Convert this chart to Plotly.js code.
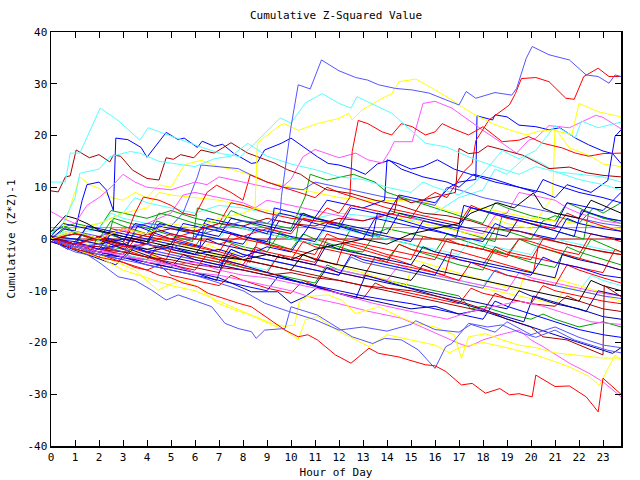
<!DOCTYPE html>
<html>
<head>
<meta charset="utf-8">
<script src="https://cdn.plot.ly/plotly-3.0.1.min.js"></script>
<style>html,body{margin:0;padding:0;background:#fff;}#chart{width:640px;height:480px;}</style>
</head>
<body>
<div id="chart"></div>
<script>
// Tick labels
const hourTicks = [0,1,2,3,4,5,6,7,8,9,10,11,12,13,14,15,16,17,18,19,20,21,22,23];
const valueTicks = [-40,-30,-20,-10,0,10,20,30,40];

// Series: [hour, cumulative value] pairs
const hz0 = [[0,0],[23.75,0]];
const hz2 = [[0,2.2],[23.75,2.2]];
const g1 = [[0,1],[0.5,2.5],[1,1.5],[2,0],[2.5,3.5],[3,2.5],[4,1],[4.5,5],[5,4.5],[6,3],[7,2],[7.5,5.5],[8,4.5],[9,3],[10,2],[10.6,8.3],[10.8,12.5],[11.5,11.4],[12.6,12.5],[13.5,11],[14,9],[15,7.5],[16,6],[17,4.5],[18,3],[18.5,7],[19,6],[20,4.5],[21,3.5],[21.5,7],[22,6],[23,4],[23.75,3.5]];
const g2 = [[0,0],[1,-1.5],[1.5,2.5],[2,1.5],[3,0],[4,-1],[4.4,3.5],[5,2.5],[6,1],[7,0],[8,-1.5],[9,-2.5],[9.5,1],[10,0],[11,-1],[12,-2],[12.5,2],[13,1],[14,0],[15,-1],[16,-2.5],[16.5,1],[17,0],[18,-1.5],[19,-3],[19.5,0],[20,-1],[21,-2.5],[22,-4],[22.5,0],[23,-1],[23.75,-2.5]];
const g3 = [[0,0.5],[1,0],[2,-1],[3,-2],[3.5,1],[4,0.5],[5,-0.5],[6,-1.5],[6.5,2],[7,1.5],[8,0.5],[9,-0.5],[10,-2],[10.5,1],[11,0],[12,-1.5],[13,-3],[14,-4],[14.5,-1],[15,-2],[16,-3.5],[17,-5],[18,-6],[18.5,-2],[19,-3],[20,-4.5],[21,-5.5],[21.5,-1.5],[22,-2.5],[23,-4],[23.75,-5]];
const g4 = [[0,1.5],[1,3],[2,2],[2.5,5.5],[3,5],[4,4],[5,5.5],[6,4],[7,3],[8,2],[9,1],[10,0],[11,-1],[12,-2],[13,-2.5],[13.5,1],[14,2],[15,1],[16,0],[17,-1],[18,-2],[18.5,2],[19,1.5],[20,0],[20.5,3.5],[21,4.5],[22,3],[22.6,6],[23,5],[23.75,7]];
const g5 = [[0,0],[1,-1],[2,-2],[3,-3],[4,-4],[4.5,-1.5],[5,-2.5],[6,-3.5],[7,-4.5],[8,-5.5],[9,-6.5],[10,-7.5],[11,-8.5],[11.5,-5],[12,-6],[13,-7],[14,-8],[15,-9],[16,-10],[17,-11],[17.5,-13.5],[18,-13],[19,-14.5],[20,-15.5],[20.5,-14.5],[21,-15.5],[22,-17],[22.5,-16.5],[23,-16],[23.75,-17]];
const x4 = [[0,0],[0.6,2],[1.4,0.5],[2.3,-1],[2.6,4],[3.7,2.5],[4.8,1],[5.9,-0.5],[6.1,6],[7.2,4.5],[8.3,3],[9.4,1.5],[10.2,0],[10.4,5],[11.5,3.5],[12.6,2],[13.7,0.5],[14.1,5.5],[15.2,4],[16.3,2.5],[17.4,1],[18.5,-0.5],[18.8,4.5],[19.9,3],[21.1,1.5],[22.2,0],[22.4,5],[23.75,3]];
const r3 = [[0,0],[0.5,-1.5],[1,-1],[2,-2.5],[3,-1],[3.5,5],[3.85,8.1],[4.5,7.5],[5,6.5],[5.5,5],[6,4.5],[6.5,9],[6.9,10.4],[7.5,9],[8,7.5],[8.3,12.4],[9,11],[10,9.5],[11,8],[11.5,10],[12,9],[13,7.5],[14,6],[15,5],[16,4],[17,3],[17.5,6.5],[18,5.5],[19,4],[20,3],[21,2],[21.5,5],[22,4],[23,2.5],[23.75,1.5]];
const r4 = [[0,0],[1,-1.5],[2,-2.5],[3,-3.5],[4,-4],[4.5,-1],[5,-2],[6,-3],[7,-4],[8,-5],[8.5,-1.5],[9,-2.5],[10,-3.5],[11,-4.5],[11.5,0],[12,-0.5],[13,-1.5],[14,-3],[15,-4],[15.5,0.5],[16,0],[17,-1],[18,-2],[19,-3.5],[19.5,0],[20,-0.5],[21,-2],[22,-3],[22.5,1],[23,0.5],[23.75,-0.5]];
const r5 = [[0,-0.5],[1,-2],[2,-3.5],[2.5,-1],[3,-2],[4,-3.5],[5,-5],[6,-6],[6.5,-3],[7,-4],[8,-5.5],[9,-6.5],[9.5,-3],[10,-4],[11,-5],[12,-6.5],[13,-7.5],[13.5,-3.5],[14,-4.5],[15,-5.5],[16,-6.5],[17,-8],[17.5,-4.5],[18,-5.5],[19,-7],[20,-8],[21,-9],[21.5,-5],[22,-6],[23,-7.5],[23.75,-8.5]];
const r6 = [[0,0.5],[1,-1],[2,-2],[3,-3],[3.5,0],[4,-1],[5,-2.5],[6,-3.5],[7,-4.5],[7.5,-1],[8,-2],[9,-3],[10,-4],[10.5,-0.5],[11,-1.5],[12,-2.5],[13,-3.5],[14,-4.5],[14.5,-1],[15,-2],[16,-3],[17,-4],[18,-5],[18.5,-1.5],[19,-2.5],[20,-3.5],[21,-4.5],[22,-5.5],[23,-6.5],[23.5,-2],[23.75,-2.5]];
const r8 = [[0,0],[1,-1.5],[2,-3],[3,-4.5],[4,-6],[4.5,-5],[5,-7],[6,-8],[7,-9],[7.5,-7],[8,-8],[9,-9.5],[10,-10.5],[10.5,-8],[11,-9],[12,-10.5],[13,-11.5],[13.5,-8.5],[14,-9.5],[15,-10.5],[16,-11.5],[17,-12.5],[17.5,-9.5],[18,-10.5],[19,-11.5],[20,-12.5],[20.5,-9],[21,-10],[22,-11],[23,-12],[23.75,-12.5]];
const r9 = [[0,0],[1,-1],[2,-1.5],[2.5,2],[3,1.5],[4,0.5],[5,-0.5],[6,-1.5],[7,-2.5],[7.5,1],[8,0],[9,-1],[10,-2],[11,-3],[11.5,1],[12,0],[13,-1],[14,-2],[15,-3],[16,-4],[16.5,0],[17,-1],[18,-2],[19,-3],[20,-4],[20.5,0],[21,-0.5],[22,-1.5],[23,-2.5],[23.75,-3]];
const x2 = [[0,0.5],[0.8,-1.5],[1.7,-3],[1.9,0.5],[2.8,-1],[3.9,-2.5],[4.8,-4],[5.2,0],[6.3,-1.5],[7.4,-3],[8.3,-4.5],[8.6,-0.5],[9.7,-2],[10.8,-3.5],[11.9,-5],[12.2,-1],[13.3,-2.5],[14.4,-4],[15.3,-5.5],[16.4,-7],[16.7,-2],[17.8,-3.5],[18.9,-5],[20.1,-6.5],[20.3,-1.5],[21.4,-3],[22.6,-4.5],[23.75,-6]];
const db1 = [[0,0],[1,-1],[2,-2],[2.5,1],[3,0],[4,-1],[5,-2],[6,-3],[6.5,0],[7,-1],[8,-2],[9,-3],[10,-4],[11,-5],[11.5,-1],[12,-2],[13,-3],[14,-4],[15,-5],[15.5,-1.5],[16,-2.5],[17,-3.5],[18,-4.5],[19,-5.5],[20,-6.5],[21,-7.5],[21.3,-3],[22,-4],[23,-5],[23.75,-6]];
const db2 = [[0,0.5],[0.5,3],[1,2.5],[2,1.5],[3,0.5],[4,-0.5],[4.5,3],[5,2.5],[6,1.5],[7,0.5],[7.5,4],[8,3.5],[9,2.5],[10,1.5],[10.5,5],[11,4],[12,3],[13,2],[14,1],[14.5,5],[15,4.5],[16,3.5],[17,2.5],[18,1.5],[19,0.5],[19.5,4],[20,3.5],[21,2.5],[22,1.5],[23,0.5],[23.75,0]];
const db3 = [[0,0],[1,-1.5],[2,-2.5],[3,-3.5],[4,-4.5],[5,-5.5],[5.5,-3],[6,-4],[7,-5],[8,-6],[9,-7],[10,-8],[11,-9],[11.5,-5.5],[12,-6.5],[13,-7.5],[14,-8.5],[15,-9.5],[16,-10.5],[17,-11.5],[18,-12.5],[19,-13.5],[19.5,-10],[20,-11],[21,-12.5],[22,-13.5],[23,-15],[23.75,-15.5]];
const x3 = [[0,0],[0.9,-2],[1.8,-3.5],[2.7,-5],[3.3,-2],[4.2,-3.5],[5.1,-5],[6,-6.5],[6.9,-8],[7.2,-4],[8.3,-5.5],[9.4,-7],[10.5,-8.5],[11.6,-10],[12.7,-11.5],[13.1,-7],[14.2,-8.5],[15.3,-10],[16.4,-11.5],[17.5,-13],[18.6,-14.5],[19.7,-16],[20.1,-11],[21.2,-12.5],[22.3,-14],[22.8,-10],[23.75,-11]];
const bl5 = [[0,0],[1,-1],[1.5,2.5],[2,2],[3,1],[4,0],[5,-1],[5.5,3],[6,2.5],[7,1.5],[8,0.5],[9,-0.5],[9.5,3.5],[10,3],[11,2],[12,1],[13,0],[13.5,4],[14,3.5],[15,2.5],[16,1.5],[17,0.5],[18,-0.5],[18.5,3],[19,2],[20,1],[21,0],[21.5,4],[22,3],[23,2],[23.75,1.5]];
const bl6 = [[0,-0.5],[1,-2],[2,-3],[3,-4],[3.5,-1.5],[4,-2.5],[5,-3.5],[6,-4.5],[7,-5.5],[7.5,-2],[8,-3],[9,-4],[10,-5],[11,-6],[12,-7],[12.5,-3],[13,-4],[14,-5],[15,-6],[16,-7],[16.5,-3],[17,-4],[18,-5],[19,-6],[20,-7],[20.5,-3.5],[21,-4.5],[22,-5.5],[23,-7],[23.75,-7.5]];
const bl7 = [[0,0],[1,-1.5],[2,-2.5],[3,-3.5],[4,-5],[5,-6],[6,-7],[7,-8],[8,-9],[9,-10],[9.5,-7],[10,-8],[11,-9],[12,-10],[13,-11],[14,-11.8],[15,-12.5],[16,-13.5],[17,-14.5],[18,-15.5],[18.5,-12],[19,-13],[20,-14.5],[21,-16],[22,-17.5],[23,-18.5],[23.75,-19]];
const bl8 = [[0,0.5],[1,0],[2,-1],[3,0],[4,-1],[4.5,2.5],[5,2],[6,1],[7,0],[8,-1],[8.5,2],[9,1.5],[10,0.5],[11,-0.5],[11.5,3],[12,2.5],[13,1.5],[14,0.5],[15,-0.5],[15.5,3.5],[16,3],[17,2],[17.5,6],[18,5.5],[19,4.5],[20,3.5],[21,2.5],[21.5,7],[22,6.5],[23,5.5],[23.75,9]];
const x1 = [[0,0],[0.7,-2],[1.3,1],[2.2,-0.5],[3.1,-2],[3.6,2.5],[4.4,1],[5.3,-0.5],[6.2,-1.5],[6.4,3],[7.3,1.5],[8.4,0],[9.1,-1],[9.3,6],[10.2,5],[11.4,3.5],[12.3,2],[13.4,0.5],[13.6,5],[14.7,3.5],[15.8,2],[16.9,0.5],[17.2,6.5],[18.3,5],[19.6,3.5],[20.7,2],[21.8,0.5],[22.1,5.5],[23.2,4],[23.75,3.5]];
const lb2 = [[0,-0.5],[1,-2],[2,-3],[2.5,0],[3,-1],[4,-2],[5,-3],[6,-4],[7,-5],[7.5,-2],[8,-3],[9,-4],[10,-5],[11,-6],[12,-7],[12.5,-3.5],[13,-4.5],[14,-5.5],[15,-6.5],[16,-7.5],[17,-8.5],[18,-9.5],[18.5,-6],[19,-7],[20,-8],[21,-9],[22,-10],[23,-11],[23.75,-11.5]];
const lb3 = [[0,0],[1,1.5],[2,0.5],[3,2],[4,3],[5,2.5],[5.5,5],[6.1,12],[6.25,14.3],[7,14],[7.8,13.6],[8.5,12],[9,11],[9.7,10],[10.5,9.5],[11,11],[12,10],[13,9],[14,8],[15,7.5],[16,6.5],[16.5,10],[17,9.5],[18,8],[19,7],[20,6],[21,5],[22,4],[23,3],[23.75,2.5]];
const cy3 = [[0,0.5],[1,1],[2,2],[2.5,5],[3,4],[4,3],[5,2],[6,1],[7,0],[7.5,3],[8,2],[9,1],[10,0],[11,-1],[11.5,2.5],[12,2],[13,1],[14,0],[15,-1],[16,-2],[17,-3],[17.5,0],[18,-1],[19,-2],[20,-3],[20.5,0.5],[21,0],[22,-1],[23,-2],[23.75,-2.5]];
const cy4 = [[0,0],[1,-1],[2,-2],[3,-3],[4,-4],[5,-5],[5.5,-2],[6,-3],[7,-4],[8,-5],[9,-6],[9.5,-3],[10,-4],[11,-5],[12,-6],[13,-7],[13.5,-4],[14,-5],[15,-6],[16,-7],[17,-8],[18,-9],[18.5,-6],[19,-7],[20,-8],[21,-9],[22,-10],[22.5,-7],[23,-8],[23.75,-9]];
const cy5 = [[0,0.5],[1,2],[2,3],[3,5],[3.5,8],[4,7],[5,6],[6,5],[7,6.5],[8,6],[9,5],[10,4.5],[11,4],[12,5],[13,4.5],[14,4],[15,3.5],[16,5],[17,8],[18,9.5],[18.5,13.5],[19,12.5],[19.8,16],[20.5,14.5],[21,13],[22,12.5],[23,12],[23.75,11]];
const mg2 = [[0,0],[1,1],[2,0],[3,1.5],[4,3],[5,5],[5.5,8.5],[6,9],[7,8],[8,7],[8.5,6],[9,7.5],[10,6.5],[11,5.5],[12,4.5],[13,3.5],[14,5],[15,4],[16,3],[17,2],[18,1],[18.5,4.5],[19,5],[19.5,9],[20,8.5],[21,7.5],[21.5,6],[22,5],[23,3.5],[23.75,3]];
const mg3 = [[0,0],[1,-1],[2,-2],[3,-3],[3.5,-1],[4,-2],[5,-3],[6,-4],[7,-5],[8,-6],[8.5,-2],[9,-3],[10,-4],[11,-5],[12,-6],[13,-7],[14,-8],[14.5,-5],[15,-6],[16,-7],[17,-8],[18,-9],[19,-10],[19.5,-6.5],[20,-7.5],[21,-8.5],[22,-9.5],[23,-10.5],[23.75,-11]];
const ye3 = [[0,0],[1,-1],[2,-2],[3,-1.5],[4,-2.5],[5,-3.5],[6,-4.5],[6.5,-1],[7,-2],[8,-3],[9,-4],[10,-5],[11,-6],[12,-7],[12.5,-3.5],[13,-4.5],[14,-5.5],[15,-6.5],[16,-7.5],[17,-8.5],[18,-9.5],[19,-10.5],[20,-11.5],[21,-12.5],[21.5,-9],[22,-10],[23,-11],[23.75,-12]];
const ye4 = [[0,0],[1,2],[2,3],[3,5],[4,6],[4.5,9],[5,8.5],[6,8],[7,7.5],[8,6.5],[9,5.5],[10,4.5],[11,3.5],[12,2.5],[13,1.5],[14,0.5],[14.5,4],[15,3.5],[16,2.5],[17,1.5],[18,0.5],[18.5,4],[19,3],[20,2],[20.9,8.2],[21,21.4],[21.6,17.6],[22.5,16],[23,14.5],[23.75,14]];
const x5 = [[0,0],[1,-1.5],[2,-0.5],[3.2,-2],[4.3,-3.5],[4.6,0],[5.7,-1.5],[6.8,-3],[7.9,-4.5],[8.2,0],[9.3,-1.5],[10.4,-3],[11.5,-4.5],[12.6,-6],[13.7,-7.5],[14.8,-9],[15.1,-4],[16.2,-5.5],[17.3,-7],[18.4,-8.5],[19.5,-10],[19.8,-6],[20.9,-7.5],[22,-9],[23.1,-10.5],[23.75,-11]];
const bk1 = [[0,1.4],[0.3,3],[0.6,4.5],[1,4],[1.5,3],[2,1.7],[3,0.5],[4,-0.5],[5,-1.5],[6,-2.5],[7,-3.5],[8,-4],[9,-5],[10,-6],[10.5,-3],[11,-4],[12,-5],[13,-6],[14,-7],[15,-8],[15.5,-5],[16,-6],[17,-7],[18,-8],[19,-9],[20,-10],[21,-11],[22,-12],[22.5,-8],[23,-9],[23.75,-10]];
const bk2 = [[0,0],[1,1],[2,0],[3,-1],[4,-2],[5,-1],[6,-2],[7,-3],[8,-4],[9,-3],[10,-4],[11,-2],[12,-1],[13,0],[14,-1],[15,1],[16,2],[17,3],[17.5,5],[18.6,7],[19.3,6],[20.1,8.9],[20.5,6],[21,5],[22,4],[22.5,7.5],[23,6.5],[23.75,5]];
const dr3 = [[0,0],[1,-1],[2,-1.5],[3,-2.5],[4,-3.5],[5,-4.5],[6,-5.5],[7,-6.5],[7.5,-3],[8,-4],[9,-5],[10,-6],[11,-7],[12,-8],[13,-9],[14,-10],[15,-11],[16,-12],[17,-13],[18,-14],[18.5,-10.5],[19,-11.5],[20,-12.5],[21,-13],[21.5,-11],[22,-12],[23,-13.5],[23.75,-14]];
const drb1 = [[0,0],[1,-1],[2,-2],[3,-2.5],[4,-3.5],[5,-4],[6,-5],[7,-5.5],[8,-6],[9,-7],[10,-6.5],[11,-7.5],[12,-8],[13,-9],[14,-9.5],[15,-10],[16,-11],[17,-12],[18,-13.5],[19,-15.5],[20,-17],[20.5,-18.9],[21.5,-19.5],[22.5,-21.5],[23,-22.4],[23.05,-9],[23.75,-11.1]];
const dbb1 = [[0,0],[1,-1.5],[2,-3],[3,-3.5],[4,-4.5],[5,-5.5],[6,-6.5],[7,-7.5],[8.35,-10.2],[9.45,-10.2],[10,-12.4],[10.6,-11.1],[11.1,-9.4],[12,-10.5],[13,-11.5],[14,-12.5],[15,-13.5],[16,-13],[17,-14.5],[17.85,-13.7],[19,-15.5],[20,-17],[21,-18.5],[22,-20],[23.4,-22.1],[23.75,-21]];
const mb2 = [[0,0],[1,-1],[2,-2],[3,-3.5],[4,-4],[5,-5],[6,-4.5],[7,-6],[8,-7],[9,-7.5],[10,-8.5],[11,-9.5],[12,-10.5],[13.4,-12.4],[14.5,-13.5],[15.5,-14.5],[16.5,-15.5],[17.5,-14],[18.5,-13],[19.5,-12],[20.5,-13],[21.5,-14.5],[22.5,-16],[23.75,-16.5]];
const mb1 = [[0,0],[1,-1.5],[2,-2.5],[3,-3],[4,-4.5],[5,-5],[6,-6.5],[7,-7],[8,-8],[9,-9],[10,-10],[11,-11.5],[12,-12.5],[13.25,-14],[14.6,-15.3],[15.45,-17],[16.2,-18.5],[17,-20.2],[17.4,-20.8],[18,-19.5],[18.7,-18.5],[19.5,-17.6],[20,-19.5],[20.5,-20.8],[21.6,-24],[22.4,-25.9],[23,-27.6],[23.75,-30.5]];
const yb1 = [[0,0],[1,-1.5],[2,-3],[3,-5],[3.5,-6],[4.45,-9.9],[5.4,-7.9],[6.1,-9.2],[6.95,-12.4],[7.65,-13.7],[8.35,-14.7],[9.2,-16.3],[9.75,-16.9],[10.15,-16.6],[10.35,-12.1],[10.7,-11.1],[11.55,-10.8],[12.1,-11.8],[12.7,-14.4],[13.65,-13.1],[14.5,-15],[15.2,-16.3],[16,-17],[16.8,-18.5],[17.1,-23.1],[17.4,-18.9],[18.1,-18.3],[18.8,-19.5],[19.5,-20.5],[20.2,-21],[21,-22],[22,-22.5],[23,-23],[23.75,-23]];
const yb2 = [[0,0],[1,-2],[2,-3.5],[3,-6],[4,-7.5],[5,-9],[6,-10],[7,-12],[8.05,-14.1],[9.05,-16.3],[9.7,-17.5],[10.3,-19.4],[10.6,-15.6],[11.1,-15],[11.85,-17.5],[12.5,-19],[13.25,-20.8],[14,-18.5],[15,-19.5],[16,-20.5],[16.6,-22],[17,-21],[18,-20],[18.8,-20.8],[20.2,-22.4],[21.6,-24.7],[22.4,-26.5],[22.85,-28.3],[23.5,-22.4],[23.75,-23.4]];
const lbb2 = [[0,0],[1,-1.5],[2,-3],[3,-4],[4,-5],[5,-6],[6,-7],[7,-8.5],[8,-10],[8.9,-12.4],[9.9,-14],[11,-15.6],[12,-17.6],[13,-17],[14,-17.8],[15,-16.5],[15.2,-15.8],[16,-17.5],[17,-18],[17.5,-16.5],[18.5,-18],[19,-16],[20,-18.5],[21,-17],[22,-19],[23,-20.5],[23.75,-21]];
const lbb1 = [[0,0],[0.5,-1.5],[1,-2.5],[1.5,-3],[2,-4.5],[2.8,-7.3],[3.5,-8],[4.2,-9.9],[4.8,-11.8],[5.3,-10.8],[6.1,-12.1],[6.7,-13.1],[7.25,-16.3],[7.8,-17.3],[8.35,-17.9],[8.55,-19.2],[8.9,-17.6],[9.75,-17.3],[10,-13.1],[11.1,-14.7],[12.1,-17.6],[12.55,-18.9],[13.4,-20.2],[13.9,-19.2],[14.6,-19.5],[15.3,-21.4],[16,-25],[16.45,-20.8],[16.7,-20.2],[17.4,-16.3],[18.2,-17],[18.8,-16.6],[19.5,-18],[20.2,-19],[21,-17.6],[21.8,-19.5],[22.5,-20.5],[23.2,-21.5],[23.75,-22]];
const rb1 = [[0,0],[0.5,-1],[1,-2],[1.5,-2.5],[2,-3.5],[2.5,-4],[3,-4.5],[3.5,-5.5],[4,-6],[4.5,-7],[5,-7.5],[5.5,-8.5],[6.1,-9.2],[6.55,-10.5],[7.2,-11.5],[7.8,-12.4],[8.35,-13.1],[9.05,-15.3],[9.75,-17.6],[10.3,-18.9],[10.7,-18.5],[11.1,-19.5],[11.85,-22.4],[12.5,-24],[13.25,-21.1],[13.65,-22.1],[14.5,-22.8],[15,-23.5],[15.6,-24.3],[16,-24.5],[16.45,-25.6],[17.1,-28.2],[17.55,-27.9],[18.1,-29.8],[18.7,-28.9],[19.1,-30.1],[19.5,-29.9],[20.05,-30.5],[20.2,-26.3],[21,-28.5],[21.6,-28.4],[22.3,-30.5],[22.8,-33.4],[23,-26.9],[23.75,-30]];
const y2 = [[0,0],[0.5,2],[1.2,12],[1.6,10.5],[2,9.8],[2.5,8],[3,7.5],[3.5,9],[4,8],[4.5,10.5],[5,10],[5.55,14.3],[6.25,15.2],[7,14],[7.5,13.5],[8.6,12],[9,11],[10,10],[11,9],[12,8],[13,7.5],[14,7.4],[15,7.4],[15.7,7],[16.5,5.5],[17,5],[18,6],[19,5],[20,4],[21,3.5],[22,3],[23,2.5],[23.75,2]];
const b4 = [[0,0],[1,-0.5],[2,-2],[3,-1],[4,-2.5],[5,-1.5],[6,-3],[7,-2],[8,-3.5],[9,-1.5],[10,-2.5],[11,4],[11.5,7.5],[12,7],[13,6],[13.9,7.5],[14,15.3],[14.5,14.5],[15,13.5],[15.5,14],[16.1,15.3],[16.8,13.5],[17.5,12.5],[18.5,11],[19.5,10],[20.2,9],[20.5,11.5],[21,10.5],[22,9],[23,8],[23.75,7]];
const b2 = [[0,0],[1,-1],[2,0.5],[3,-0.5],[3.5,3],[4,2.5],[5,1],[6,0],[6.5,4],[7,3.5],[8,2.5],[9,1],[9.5,5],[10,4.5],[11,3],[12,2],[12.5,6],[13,5.5],[14,4.5],[14.5,8.5],[15,8],[16,7],[16.6,10],[17,11],[17.7,11.5],[17.75,23.8],[18.4,23],[18.5,24],[19,23.6],[19.5,22],[20.2,21.7],[20.75,21.1],[21.2,21.5],[21.85,19.5],[22.4,18.2],[23,17],[23.4,16.5],[23.75,14.6]];
const b1 = [[0,0],[0.5,2],[1,1.5],[1.3,7.5],[1.5,10.5],[2,11],[2.3,9.5],[2.6,5.5],[2.7,19.5],[3.2,19.2],[3.75,17.7],[4,15.8],[4.8,20.6],[5.3,19.2],[5.55,19.5],[6.1,17.7],[6.3,18.9],[6.8,17.9],[7.15,18.3],[7.6,16.6],[8.35,14.6],[8.6,14.8],[8.9,17.2],[9.6,18.5],[10,19.5],[10.7,17.2],[11.1,15.9],[11.55,14.6],[12,14.3],[12.6,13.5],[13.1,12.5],[13.6,14.5],[14.1,15.2],[14.6,13.5],[15.5,12],[16.5,11],[17,10],[17.6,12.5],[18.5,11.5],[19.5,10],[20.5,9],[21,8],[21.5,10.5],[22.5,9],[23.2,11.3],[23.5,19.8],[23.75,21.1]];
const mg1 = [[0,5.3],[0.5,4],[1,3],[1.5,6.5],[2,8],[2.5,10],[3,12.5],[3.5,11],[4,10],[5,9.5],[6,11],[6.5,10.5],[7,12],[8,11],[9,10],[9.5,9.5],[10,11.5],[10.5,15.9],[11,17.3],[12,15.7],[12.7,16.6],[13.2,15.3],[13.8,14.7],[14.1,16.9],[14.3,18.8],[15.05,18.8],[15.5,26.2],[16,26.6],[16.7,25.3],[17.3,23.3],[18,21],[18.8,18.5],[19.4,16.6],[19.9,19.1],[20.2,19.5],[20.75,21.9],[21.6,21.5],[22.7,23.9],[23,23.5],[23.75,21.3]];
const dr2 = [[0,0.5],[1,-1],[2,0.5],[3,-1],[4,1],[5,2],[6,1.5],[7,3],[8,2.5],[9,4],[10,3],[11,2.5],[12,4],[13,3.5],[14.3,5],[14.45,8.2],[15,7],[16,8],[16.85,9],[17,17.5],[17.4,16.5],[17.8,16.7],[18.2,18],[19.1,16.9],[19.65,16.2],[20.75,13.6],[21.6,13.9],[22.3,12.8],[23,12.3],[23.75,12]];
const dr1 = [[0,9.3],[0.3,9.1],[0.6,12],[0.8,12.2],[1.05,17.2],[1.6,15.7],[2,16.3],[2.45,14.9],[2.6,16.2],[2.9,16],[3.4,13.3],[4,11.7],[4.5,11.4],[4.8,15.7],[5.1,15.4],[5.4,16.3],[5.95,15.7],[6.25,17.2],[6.8,16.6],[7.5,18.6],[8.2,16.6],[8.75,15.7],[9.3,14.7],[9.85,13.4],[10.4,12.5],[10.8,11.2],[11.5,9.5],[12.5,8.8],[13.5,7.5],[14.5,6.5],[15.5,5],[16.5,4.5],[17.5,3.5],[18.5,2],[19.5,1.5],[20.5,0.2],[21.5,-1],[22.5,-2],[23.75,-3]];
const r2 = [[0,0],[1,1],[2,0],[3,2],[4,1],[5,0],[6,1.5],[7,3],[7.5,7],[8,6.5],[9,5],[10,4],[11,3.5],[11.5,6],[12,5],[12.45,8],[12.55,16.9],[12.8,22.9],[13.2,22.3],[13.8,20.7],[14.2,20.1],[14.6,22.3],[15.05,21.7],[15.6,20.1],[16,20.7],[16.3,22.3],[16.7,21.4],[17.4,20.1],[18,21.7],[18.8,18.8],[19.5,19.1],[19.9,19.8],[20.5,18.5],[21.3,17.6],[21.85,16.6],[22.4,16],[23,16.5],[23.75,16.6]];
const r1 = [[0,0],[1,-1],[2,0],[3,-1.5],[4,-1],[5,1],[6,0],[7,-1],[8,0.5],[9,2],[10,1],[10.5,4],[11,3.5],[12,3],[12.5,6.5],[13,6],[14,5],[15,4],[15.5,7.5],[16,9],[16.5,8],[17.2,13],[17.55,14.6],[17.7,19],[18.25,23],[19.1,25.9],[19.35,28.1],[19.6,31],[20.2,31.2],[20.75,30.4],[21.45,27.2],[21.8,27],[22.2,31.4],[22.8,33],[23.25,31.4],[23.75,31.4]];
const y1 = [[0,0],[1,1.5],[2,0],[3,2],[4,1],[5,3],[6,2],[7,4],[8,5],[8.5,6],[8.6,18.5],[8.75,19.1],[9.55,22],[9.7,22.3],[10.3,21],[11.1,22.3],[12,23.3],[12.4,24.3],[12.55,23],[12.95,24.9],[13.65,26.8],[14.2,28.1],[14.5,30.4],[15.2,30.9],[15.9,29.1],[16.7,26.9],[17.1,25.6],[17.7,23.9],[18.4,22.3],[19.1,21.1],[19.8,20.1],[20.3,20.8],[20.9,21.1],[21.45,20.4],[21.7,20.1],[22,26.2],[22.8,24.6],[23.75,23.6]];
const c2 = [[0,1],[0.5,3],[1,8],[1.2,12.7],[2,13.5],[2.45,15.9],[3.3,16.9],[3.7,16.6],[4.5,15],[5.2,14.5],[6,14],[6.8,15.5],[7.5,16],[8.2,18.5],[9,16],[10,14.5],[11.1,13.3],[12,12],[13,11.5],[14,10],[15,9],[15.5,11],[16,10],[17,8.5],[17.6,10.5],[18.8,17.1],[19.5,15.5],[20.2,17.1],[20.75,20.3],[21,21.9],[21.85,19.6],[22.1,22.8],[22.8,21.5],[23.75,22.6]];
const c1 = [[0,11],[0.6,11],[0.8,16.6],[1.2,16.6],[2.05,25.3],[2.8,22.9],[3.7,19.1],[4.05,21.5],[4.7,20.4],[5.5,19],[6.35,17.6],[7.1,16.5],[7.9,15.9],[8.5,18.5],[9.55,23.4],[10,22.4],[10.6,26.3],[11.3,28.1],[12,26.2],[12.5,25.3],[12.75,27.5],[13.2,26.5],[14.2,24.3],[15,21],[15.6,18.5],[16.45,17.8],[17.3,16.2],[17.7,15.3],[18.7,13.7],[19.5,12.5],[20.2,14],[21,13],[22,11.5],[23,10.5],[23.75,9.5]];
const lb1 = [[0,0],[1,-1.5],[2,-1],[3,-2.5],[4,-1],[5,-2],[6,0.5],[7,2],[8,3.5],[9,3],[9.55,5],[9.6,8.2],[10,21.7],[10.3,29.8],[10.8,29],[11.27,34.6],[12,32.5],[12.7,31.2],[13.2,30.7],[13.65,29.8],[14.35,29.1],[15.05,28.8],[15.75,28.2],[16.45,26.9],[17,25.9],[17.3,28.5],[17.7,27.2],[18.5,28.3],[19.2,27.8],[19.4,29.1],[19.8,34.9],[20.05,37.2],[20.75,35.6],[21.6,34.6],[22.3,31.7],[22.8,31.4],[23.25,30.1],[23.5,31.7],[23.75,31.4]];

const BL='#0000ff', DB='#0000a8', LB='#5555ff', RD='#ff0000', DR='#a80000',
      GR='#00a000', CY='#55ffff', YE='#ffff00', MG='#ff55ff', BK='#000000';

const seriesList = [
  [hz0,DR],[hz2,MG],
  [g1,GR],[g2,GR],[g3,GR],[g4,GR],[g5,GR],[x4,GR],
  [cy3,CY],[cy4,CY],[cy5,CY],
  [ye3,YE],[ye4,YE],[y2,YE],[x5,YE],
  [mg2,MG],[mg3,MG],
  [lb2,LB],[lb3,LB],
  [r3,RD],[r4,RD],[r5,RD],[r6,RD],[r8,RD],[r9,RD],[x2,RD],
  [db1,DB],[db2,DB],[db3,DB],[x3,DB],
  [bl5,BL],[bl6,BL],[bl7,BL],[bl8,BL],[x1,BL],
  [bk1,BK],[bk2,BK],[dr3,DR],
  [drb1,DR],[dbb1,DB],[mb2,MG],[mb1,MG],
  [yb1,YE],[yb2,YE],[lbb2,LB],[lbb1,LB],[rb1,RD],
  [b4,BL],[b2,BL],[b1,BL],
  [mg1,MG],[dr2,DR],[dr1,DR],[r2,RD],[r1,RD],
  [y1,YE],[c2,CY],[c1,CY],[lb1,LB]
];

const traces = seriesList.map(([s,col]) => ({
  type:'scatter', mode:'lines',
  x: s.map(p=>p[0]), y: s.map(p=>p[1]),
  line:{color:col, width:1},
  hoverinfo:'skip', showlegend:false
}));

const fnt = {family:'DejaVu Sans Mono, monospace', size:11, color:'#000'};
const axisBase = {
  showline:true, linecolor:'#000', linewidth:1.5, mirror:'allticks',
  ticks:'inside', ticklen:6, tickwidth:1, tickcolor:'#000',
  showgrid:false, zeroline:false, tickfont:fnt
};

const layout = {
  width:640, height:480,
  margin:{l:51, r:19, t:32, b:34},
  paper_bgcolor:'#fff', plot_bgcolor:'#fff',
  title:{text:'Cumulative Z-Squared Value', font:fnt, x:0.5, xref:'paper', xanchor:'center', y:0.968, yanchor:'middle'},
  xaxis:Object.assign({}, axisBase, {range:[0,23.75], tickvals:hourTicks, ticktext:hourTicks.map(String),
    title:{text:'Hour of Day', font:fnt, standoff:5}}),
  yaxis:Object.assign({}, axisBase, {range:[-40,40], tickvals:valueTicks, ticktext:valueTicks.map(String),
    title:{text:'Cumulative (Z*Z)-1', font:fnt, standoff:9}}),
  showlegend:false
};

Plotly.newPlot('chart', traces, layout, {staticPlot:true, displayModeBar:false});
</script>
</body>
</html>
